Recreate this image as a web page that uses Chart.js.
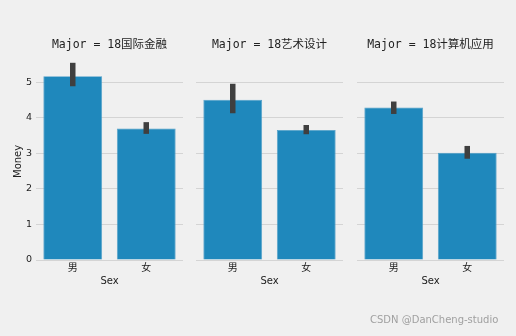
<!DOCTYPE html>
<html>
<head>
<meta charset="utf-8">
<script src="https://cdn.jsdelivr.net/npm/chart.js@4/dist/chart.umd.min.js"></script>
<style>
  html, body { margin: 0; padding: 0; background: #f0f0f0; }
  #wrap { position: relative; width: 516px; height: 336px; overflow: hidden; }
  canvas { position: absolute; top: 0; }
  #mark { position: absolute; left: 370px; top: 314px; font: 10px 'DejaVu Sans', sans-serif; color: #a0a0a0; }
</style>
</head>
<body>
<div id="wrap">
  <canvas id="c1" width="190" height="336" style="left:0px"></canvas>
  <canvas id="c2" width="160" height="336" style="left:190px"></canvas>
  <canvas id="c3" width="166" height="336" style="left:350px"></canvas>
  <div id="mark">CSDN @DanCheng-studio</div>
</div>
<script>
const majors = [ '18国际金融', '18艺术设计', '18计算机应用' ];
const sexes = [ '男', '女' ];
const meanMoney = [ [ 5.17, 3.70 ], [ 4.51, 3.66 ], [ 4.29, 3.02 ] ];
const ciLow = [ [ 4.89, 3.55 ], [ 4.13, 3.54 ], [ 4.11, 2.85 ] ];
const ciHigh = [ [ 5.55, 3.88 ], [ 4.96, 3.80 ], [ 4.46, 3.21 ] ];
const yTicks = [ 0, 1, 2, 3, 4, 5 ];

const BAR = '#1f88bc';
const GRID = '#d4d4d4';
const CJK = "'DejaVu Sans', 'Noto Sans CJK SC', sans-serif";
const MONO = "'DejaVu Sans Mono', 'Noto Sans CJK SC', monospace";

const errorBars = {
    id: 'errorBars',
    afterDatasetsDraw( chart, args, opts ) {
        const { ctx, scales: { x, y } } = chart;
        ctx.save();
        ctx.strokeStyle = '#3f3f3f';
        ctx.lineWidth = 5.5;
        opts.low.forEach( ( lo, i ) => {
            const px = x.getPixelForValue( i );
            ctx.beginPath();
            ctx.moveTo( px, y.getPixelForValue( lo ) );
            ctx.lineTo( px, y.getPixelForValue( opts.high[ i ] ) );
            ctx.stroke();
        } );
        ctx.restore();
    }
};

const panel = ( id, k, pad ) => {
    const first = k === 0;
    return new Chart( document.getElementById( id ), {
        type: 'bar',
        data: {
            labels: sexes,
            datasets: [ {
                data: meanMoney[ k ],
                backgroundColor: BAR,
                borderColor: '#4f9ec8',
                borderWidth: 0.8,
                categoryPercentage: 1,
                barPercentage: 0.8
            } ]
        },
        plugins: [ errorBars ],
        options: {
            responsive: false,
            animation: false,
            events: [],
            layout: { padding: { left: pad[ 0 ], right: pad[ 1 ], top: 0, bottom: 46 } },
            plugins: {
                legend: { display: false },
                tooltip: { enabled: false },
                title: {
                    display: true,
                    fullSize: false,
                    text: 'Major = ' + majors[ k ],
                    color: '#222',
                    font: { family: MONO, size: 11.5, weight: 'normal' },
                    padding: { top: 38, bottom: 11 }
                },
                errorBars: { low: ciLow[ k ], high: ciHigh[ k ] }
            },
            scales: {
                x: {
                    grid: { display: false, drawTicks: false },
                    border: { display: false },
                    ticks: { color: '#222', padding: 2, font: { family: CJK, size: 10 } },
                    title: {
                        display: true, text: 'Sex', color: '#222',
                        font: { family: CJK, size: 10 }, padding: { top: 0, bottom: 3 }
                    },
                    afterFit: s => { s.height = 30; }
                },
                y: {
                    min: 0,
                    max: 5.55,
                    grid: { color: GRID, lineWidth: 1, drawTicks: false },
                    border: { display: false },
                    ticks: {
                        display: first, stepSize: 1, includeBounds: false,
                        color: '#222', padding: 4, font: { family: CJK, size: 9.5 }
                    },
                    afterBuildTicks: s => { s.ticks = yTicks.map( v => ( { value: v } ) ); },
                    title: {
                        display: first, text: 'Money', color: '#222',
                        font: { family: CJK, size: 10 }, padding: { top: 12, bottom: 0 }
                    },
                    afterFit: s => { s.width = first ? 36 : 0; }
                }
            }
        }
    } );
};

panel( 'c1', 0, [ 0, 7 ] );
panel( 'c2', 1, [ 6, 7 ] );
panel( 'c3', 2, [ 7, 12 ] );
</script>
</body>
</html>
